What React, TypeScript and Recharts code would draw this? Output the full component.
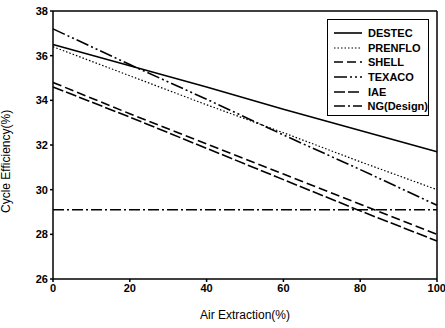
import { LineChart, Line, XAxis, YAxis, ReferenceLine } from "recharts";

const extraction = [0, 20, 40, 60, 80, 100];
const destec = [36.5, 35.55, 34.6, 33.6, 32.65, 31.7];
const prenflo = [36.4, 35.1, 33.8, 32.55, 31.25, 30.0];
const shell = [34.8, 33.4, 32.05, 30.7, 29.35, 28.0];
const texaco = [37.2, 35.6, 34.05, 32.45, 30.9, 29.3];
const iae = [34.6, 33.25, 31.85, 30.45, 29.05, 27.7];
const ngDesign = [29.1, 29.1, 29.1, 29.1, 29.1, 29.1];

const xTicks = [0, 20, 40, 60, 80, 100];
const yTicks = [26, 28, 30, 32, 34, 36, 38];

const data = extraction.map((x, i) => ({
  x,
  destec: destec[i],
  prenflo: prenflo[i],
  shell: shell[i],
  texaco: texaco[i],
  iae: iae[i],
  ng: ngDesign[i],
}));

const series = [
  { key: "destec", name: "DESTEC", dash: undefined, width: 1.6 },
  { key: "prenflo", name: "PRENFLO", dash: "1.5 2", width: 1.2 },
  { key: "shell", name: "SHELL", dash: "9 4", width: 1.6 },
  { key: "texaco", name: "TEXACO", dash: "13 3 2 3 2 3", width: 1.6 },
  { key: "iae", name: "IAE", dash: "11 3", width: 1.6 },
  { key: "ng", name: "NG(Design)", dash: "11 3 2 3", width: 1.4 },
];

const font = "'Liberation Sans', Arial, sans-serif";

function LegendBox() {
  return (
    <div
      style={{
        position: "absolute",
        left: 327,
        top: 19,
        border: "1.5px solid #000",
        background: "#fff",
        width: 102,
        height: 97,
        boxSizing: "border-box",
        padding: "6px 0 0 6px",
        fontFamily: font,
        fontWeight: "bold",
        fontSize: 11,
        color: "#000",
      }}
    >
      {series.map((s) => (
        <div key={s.key} style={{ display: "flex", alignItems: "center", height: 14.6 }}>
          <svg width={30} height={8} style={{ marginRight: 4 }}>
            <line x1={0} y1={4} x2={28} y2={4} stroke="#000" strokeWidth={s.width} strokeDasharray={s.dash} />
          </svg>
          <span>{s.name}</span>
        </div>
      ))}
    </div>
  );
}

export default function App() {
  return (
    <div style={{ position: "relative", width: 445, height: 328, background: "#fff" }}>
      <style>{`body{margin:0}`}</style>
      <LineChart width={445} height={328} data={data} margin={{ top: 11, right: 8, left: 0, bottom: 0 }}>
        <XAxis
          dataKey="x"
          type="number"
          domain={[0, 100]}
          ticks={xTicks}
          height={49}
          stroke="#000"
          strokeWidth={1.5}
          tickSize={3}
          tick={{ fill: "#000", fontSize: 11, fontWeight: "bold", fontFamily: font }}
          label={{ value: "Air Extraction(%)", position: "insideBottom", offset: 9, fill: "#000", fontSize: 12, fontFamily: font }}
        />
        <YAxis
          type="number"
          domain={[26, 38]}
          ticks={yTicks}
          width={53}
          stroke="#000"
          strokeWidth={1.5}
          tickSize={3}
          tick={{ fill: "#000", fontSize: 11, fontWeight: "bold", fontFamily: font }}
          label={{ value: "Cycle Efficiency(%)", angle: -90, position: "insideLeft", offset: 6, dy: 68, fill: "#000", fontSize: 12, fontFamily: font }}
        />
        <ReferenceLine y={38} stroke="#000" strokeWidth={1.5} />
        <ReferenceLine x={100} stroke="#000" strokeWidth={1.5} />
        {series.map((s) => (
          <Line
            key={s.key}
            dataKey={s.key}
            name={s.name}
            stroke="#000"
            strokeWidth={s.width}
            strokeDasharray={s.dash}
            dot={false}
            type="linear"
            isAnimationActive={false}
          />
        ))}
      </LineChart>
      <LegendBox />
    </div>
  );
}
